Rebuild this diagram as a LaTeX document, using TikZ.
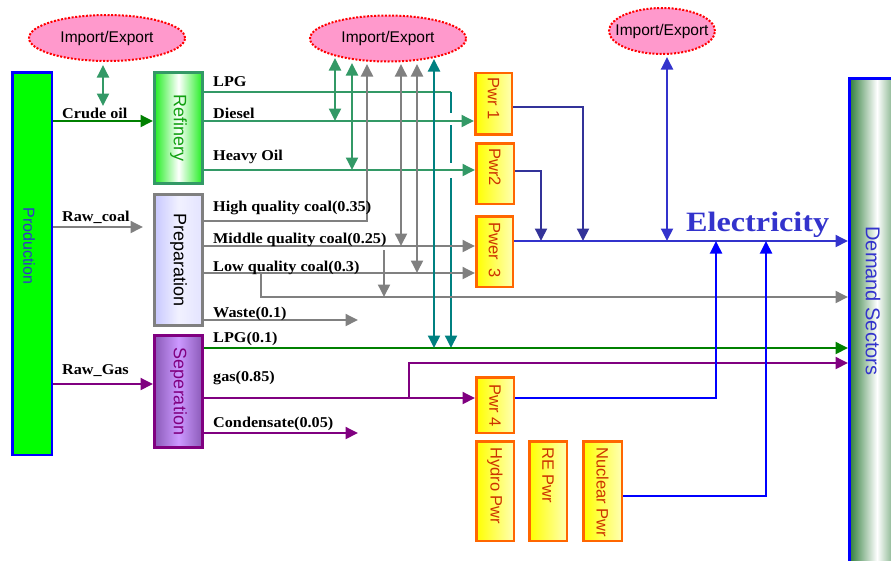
\documentclass[tikz,border=0pt]{standalone}
\usepackage{fontspec}
\setmainfont{Liberation Serif}[FakeStretch=1.08]
\newfontfamily\arialfont{Liberation Sans}
\newfontfamily\elecfont{Liberation Serif}[FakeStretch=1.15]
\usetikzlibrary{shapes.geometric,arrows.meta,positioning}

\definecolor{ieFill}{HTML}{FF99CC}
\definecolor{oilGreen}{HTML}{339966}
\definecolor{crudeGreen}{HTML}{008000}
\definecolor{tealLine}{HTML}{008080}
\definecolor{coalGray}{HTML}{808080}
\definecolor{gasPurple}{HTML}{800080}
\definecolor{navyLine}{HTML}{333399}
\definecolor{elecBlue}{HTML}{3333CC}
\definecolor{pwrOrange}{HTML}{FF6600}
\definecolor{pwrText}{HTML}{CC3300}
\definecolor{prodGreen}{HTML}{00FF00}
\definecolor{refGreen}{HTML}{22EE22}
\definecolor{refText}{HTML}{11A011}
\definecolor{prepLav}{HTML}{C8C8FF}
\definecolor{sepDark}{HTML}{8A5AB8}
\definecolor{sepLight}{HTML}{CC99FF}
\definecolor{demGreen}{HTML}{2E7D3A}

\tikzset{
  flow/.style={line width=1.9pt,-{Triangle[length=12.5pt,width=12pt]}},
  twoway/.style={line width=1.9pt,{Triangle[length=12.5pt,width=12pt]}-{Triangle[length=12.5pt,width=12pt]}},
  plain/.style={line width=1.9pt},
  ie/.style={ellipse,draw=red,line width=2pt,dash pattern=on 2pt off 1.6pt,
    fill=ieFill,minimum width=156pt,minimum height=46pt,inner xsep=-15pt,inner ysep=-3pt,
    font=\arialfont\fontsize{15.5}{17}\selectfont},
  lbl/.style={anchor=base west,inner sep=0pt,font=\fontsize{15}{17}\selectfont\bfseries},
  procbox/.style={draw,line width=3pt,minimum width=48pt,inner sep=0pt},
  proctext/.style={rotate=-90,inner sep=0pt,font=\arialfont\fontsize{18}{20}\selectfont},
  pwrbox/.style={draw=pwrOrange,line width=2.5pt,left color=yellow,right color=white!70!yellow,
    middle color=white!35!yellow,minimum width=37pt,inner sep=0pt},
  pwrtext/.style={rotate=-90,anchor=west,inner sep=0pt,text=pwrText,
    font=\arialfont\fontsize{16.5}{18}\selectfont},
}

\begin{document}
\begin{tikzpicture}[x=1pt,y=-1pt]
    \useasboundingbox (0,0) rectangle (891,560);
    \clip (0,0) rectangle (891,560);

    % levels of the flows
    \coordinate (yLPG) at (0,92);
    \coordinate (yDiesel) at (0,121);
    \coordinate (yCrude) at (0,121);
    \coordinate (yHeavy) at (0,170);
    \coordinate (yHigh) at (0,221);
    \coordinate (yCoal) at (0,227);
    \coordinate (yElec) at (0,241);
    \coordinate (yMid) at (0,246);
    \coordinate (yLow) at (0,273);
    \coordinate (yCoalOut) at (0,297);
    \coordinate (yWaste) at (0,320);
    \coordinate (yLPGten) at (0,348);
    \coordinate (yGasOut) at (0,363);
    \coordinate (yRawGas) at (0,384);
    \coordinate (yGas) at (0,398);
    \coordinate (yCond) at (0,433);
    \coordinate (yPwrA) at (0,107);
    \coordinate (yPwrB) at (0,171);
    \coordinate (yNuc) at (0,496);

    % blocks
    \node[procbox,draw=blue,line width=2.5pt,fill=prodGreen,minimum width=39.5pt,minimum height=382.5pt] (prod) at (32,263.5) {};
    \node[proctext,text=elecBlue,font=\arialfont\fontsize{16}{18}\selectfont] (prodLbl) at (29,246) {Production};
    \node[procbox,draw=oilGreen,left color=refGreen,right color=refGreen,middle color=white,minimum height=111pt] (refinery) at (178.5,128) {};
    \node[proctext,text=refText] (refLbl) at (refinery) {Refinery};
    \node[procbox,draw=coalGray,left color=prepLav,right color=white!50!prepLav,middle color=white!75!prepLav,minimum height=131pt] (prep) at (178.5,260) {};
    \node[proctext] (prepLbl) at (prep) {Preparation};
    \node[procbox,draw=gasPurple,left color=sepDark,right color=sepDark,middle color=sepLight,minimum height=112pt] (sep) at (178.5,391.5) {};
    \node[proctext,text=gasPurple] (sepLbl) at (sep) {Seperation};
    \node[draw=blue,line width=2.5pt,left color=demGreen,right color=demGreen,middle color=white,minimum width=55.5pt,minimum height=484.5pt,inner sep=0pt] (demand) at (877,320.5) {};
    \node[proctext,text=elecBlue,font=\arialfont\fontsize{20}{22}\selectfont] (demLbl) at (873,301) {Demand Sectors};

    \node[ie] (ieOil) at (107,38) {Import/Export};
    \node[ie] (ieProd) at (388,38.5) {Import/Export};
    \node[ie,minimum width=106pt] (ieElec) at (662,31) {Import/Export};

    % power plants
    \node[pwrbox,minimum width=36.5pt,minimum height=61.5pt] (pwrA) at (493.5,103.5) {};
    \node[pwrtext] (pwrAlbl) at ([yshift=-6pt]pwrA.north) {Pwr 1};
    \node[pwrbox,minimum width=37.5pt,minimum height=60.5pt] (pwrB) at (495,173.5) {};
    \node[pwrtext] (pwrBlbl) at ([yshift=-6pt]pwrB.north) {Pwr2};
    \node[pwrbox,minimum width=36.5pt,minimum height=70.5pt] (pwrC) at (494.5,251.5) {};
    \node[pwrtext] (pwrClbl) at ([yshift=-7pt]pwrC.north) {Pwer\ \ 3};
    \node[pwrbox,minimum width=37.5pt,minimum height=55.5pt] (pwrD) at (495,405) {};
    \node[pwrtext] (pwrDlbl) at ([yshift=-8pt]pwrD.north) {Pwr 4};
    \node[pwrbox,minimum width=37.5pt,minimum height=99.5pt] (hydro) at (495,491) {};
    \node[pwrtext] (hydroLbl) at ([yshift=-7pt]hydro.north) {Hydro Pwr};
    \node[pwrbox,minimum width=37.5pt,minimum height=99.5pt] (renew) at (548,491) {};
    \node[pwrtext] (renewLbl) at ([yshift=-7pt]renew.north) {RE Pwr};
    \node[pwrbox,minimum width=38.5pt,minimum height=99.5pt] (nuclear) at (602.5,491) {};
    \node[pwrtext] (nuclearLbl) at ([yshift=-7pt]nuclear.north) {Nuclear Pwr};

    % bends and taps
    \coordinate (oilTap) at (103,106);
    \coordinate (tapDiesel) at (335,58);
    \coordinate (tapHeavy) at (352,63);
    \coordinate (tapHigh) at (367,64);
    \coordinate (tapMid) at (401,64);
    \coordinate (tapLow) at (417,64);
    \coordinate (tapLPG) at (434,59);
    \coordinate (lpgBend) at (451,92);
    \coordinate (coalEnd) at (143,227);
    \coordinate (lowSplit) at (261,273);
    \coordinate (midSplit) at (384,250);
    \coordinate (wasteEnd) at (358,320);
    \coordinate (gasSplit) at (409,398);
    \coordinate (condEnd) at (358,433);
    \coordinate (pwrBjoin) at (541,241);
    \coordinate (pwrAjoin) at (583,241);
    \coordinate (elecTap) at (667,241);
    \coordinate (pwrDjoin) at (716,241);
    \coordinate (nucJoin) at (766,241);

    % oil
    \draw[flow,crudeGreen] (prod.east |- yCrude) -- (refinery.west |- yCrude);
    \draw[twoway,oilGreen] ([yshift=-3pt]ieOil.south -| oilTap) -- (oilTap);
    \draw[plain,oilGreen] (refinery.east |- yLPG) -- (lpgBend);
    \draw[flow,tealLine,dash pattern=on 21pt off 12pt on 38pt off 15pt on 300pt] (lpgBend) -- (lpgBend |- yLPGten);
    \draw[flow,oilGreen] (refinery.east |- yDiesel) -- (pwrA.west |- yDiesel);
    \draw[flow,oilGreen] (refinery.east |- yHeavy) -- (pwrB.west |- yHeavy);
    \draw[twoway,oilGreen] (tapDiesel) -- (tapDiesel |- yDiesel);
    \draw[twoway,oilGreen] (tapHeavy) -- (tapHeavy |- yHeavy);

    % coal
    \draw[flow,coalGray] (prod.east |- yCoal) -- (coalEnd);
    \draw[flow,coalGray] (prep.east |- yHigh) -| (tapHigh);
    \draw[flow,coalGray] (prep.east |- yMid) -- (pwrC.west |- yMid);
    \draw[flow,coalGray] (prep.east |- yLow) -- (pwrC.west |- yLow);
    \draw[flow,coalGray] (lowSplit) |- (demand.west |- yCoalOut);
    \draw[flow,coalGray] (midSplit) -- (midSplit |- yCoalOut);
    \draw[flow,coalGray] (prep.east |- yWaste) -- (wasteEnd);
    \draw[twoway,coalGray] (tapMid) -- (tapMid |- yMid);
    \draw[twoway,coalGray] (tapLow) -- (tapLow |- yLow);

    % gas
    \draw[flow,gasPurple] (prod.east |- yRawGas) -- (sep.west |- yRawGas);
    \draw[flow,crudeGreen] (sep.east |- yLPGten) -- (demand.west |- yLPGten);
    \draw[twoway,tealLine] (tapLPG) -- (tapLPG |- yLPGten);
    \draw[flow,gasPurple] (sep.east |- yGas) -- (pwrD.west |- yGas);
    \draw[flow,gasPurple] (gasSplit) |- (demand.west |- yGasOut);
    \draw[flow,gasPurple] (sep.east |- yCond) -- (condEnd);

    % electricity
    \draw[flow,navyLine] (pwrA.east |- yPwrA) -| (pwrAjoin);
    \draw[flow,navyLine] (pwrB.east |- yPwrB) -| (pwrBjoin);
    \draw[flow,elecBlue] (pwrC.east |- yElec) -- (demand.west |- yElec);
    \draw[twoway,elecBlue] (elecTap) -- ([yshift=-2pt]ieElec.south -| elecTap);
    \draw[flow,blue] (pwrD.east |- yGas) -| (pwrDjoin);
    \draw[flow,blue] (nuclear.east |- yNuc) -| (nucJoin);

    % labels
    \node[lbl] (lCrude) at (62,118) {Crude oil};
    \node[lbl] (lRawCoal) at (62,221) {Raw\_coal};
    \node[lbl] (lRawGas) at (62,374) {Raw\_Gas};
    \node[lbl] (lLPG) at (213,86) {LPG};
    \node[lbl] (lDiesel) at (213,118) {Diesel};
    \node[lbl] (lHeavy) at (213,160) {Heavy Oil};
    \node[lbl] (lHigh) at (213,211) {High quality coal(0.35)};
    \node[lbl] (lMid) at (213,243) {Middle quality coal(0.25)};
    \node[lbl] (lLow) at (213,271) {Low quality coal(0.3)};
    \node[lbl] (lWaste) at (213,317) {Waste(0.1)};
    \node[lbl] (lLPGten) at (213,342) {LPG(0.1)};
    \node[lbl] (lGas) at (213,381) {gas(0.85)};
    \node[lbl] (lCond) at (213,427) {Condensate(0.05)};
    \node[anchor=base west,inner sep=0pt,text=elecBlue,font=\elecfont\fontsize{28}{30}\selectfont\bfseries] (lElec) at (686,231) {Electricity};
\end{tikzpicture}
\end{document}
